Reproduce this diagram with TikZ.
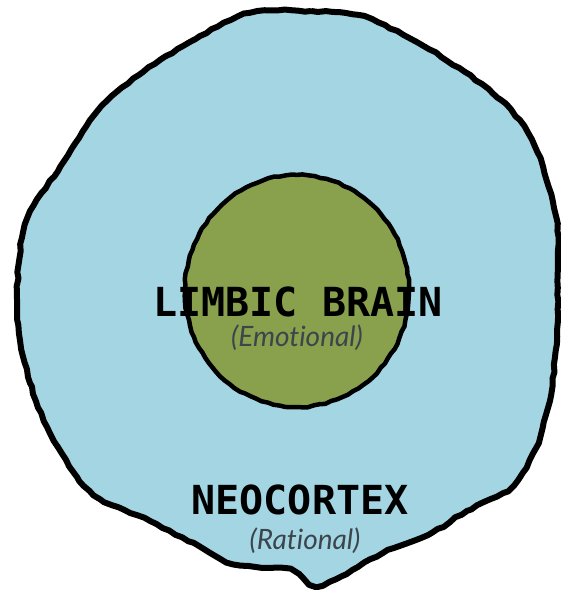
\documentclass[tikz,border=0pt]{standalone}
\usepackage{fontspec}
\usetikzlibrary{decorations.pathmorphing}
\newfontfamily\comicfont{DejaVu Sans Mono}
\newfontfamily\latofont{Lato}[Ligatures=NoCommon]
\definecolor{neoblue}{HTML}{A4D5E3}
\definecolor{limbgreen}{HTML}{89A04C}
\definecolor{subgray}{HTML}{3A464C}
\tikzset{
  blob/.style={line width=6pt, draw=black, line join=round,
    decorate, decoration={random steps, segment length=7pt, amplitude=0.9pt}},
  title/.style={font=\comicfont\bfseries\fontsize{40}{40}\selectfont, text=black, inner sep=0pt},
  subtitle/.style={font=\latofont\itshape\fontsize{28}{28}\selectfont, text=subgray, inner sep=0pt}
}
\begin{document}
\begin{tikzpicture}[x=1pt,y=-1pt]
\useasboundingbox (0,0) rectangle (561,590);
% outer neocortex
\path[fill=neoblue] plot[smooth cycle, tension=0.55] coordinates {
 (250,13) (311,11) (358,15) (411,39) (465,72) (501,100) (528,133) (543,167)
 (556,217) (558,267) (557,330) (551,395) (536,448) (518,480) (503,493)
 (467,511) (433,532) (383,553) (342,576) (316,586) (290,570) (233,564)
 (200,547) (150,521) (100,499) (77,477) (50,433) (30,383) (19,333) (17,293)
 (22,238) (34,205) (60,167) (97,112) (143,72) (200,36)};
\draw[blob] plot[smooth cycle, tension=0.55] coordinates {
 (250,13) (311,11) (358,15) (411,39) (465,72) (501,100) (528,133) (543,167)
 (556,217) (558,267) (557,330) (551,395) (536,448) (518,480) (503,493)
 (467,511) (433,532) (383,553) (342,576) (316,586) (290,570) (233,564)
 (200,547) (150,521) (100,499) (77,477) (50,433) (30,383) (19,333) (17,293)
 (22,238) (34,205) (60,167) (97,112) (143,72) (200,36)};
% inner limbic
\path[fill=limbgreen] (297,291) ellipse [x radius=112, y radius=116];
\draw[line width=4.5pt, decorate, decoration={random steps, segment length=6pt, amplitude=0.7pt}, line join=round]
  (297,291) ellipse [x radius=112, y radius=116];
% labels
\node[title] (limbic) at (298,302) {LIMBIC BRAIN};
\node[subtitle] (emo) at (297,338) {(Emotional)};
\node[title] (neo) at (300,500) {NEOCORTEX};
\node[subtitle] (rat) at (305,541) {(Rational)};
\end{tikzpicture}
\end{document}
